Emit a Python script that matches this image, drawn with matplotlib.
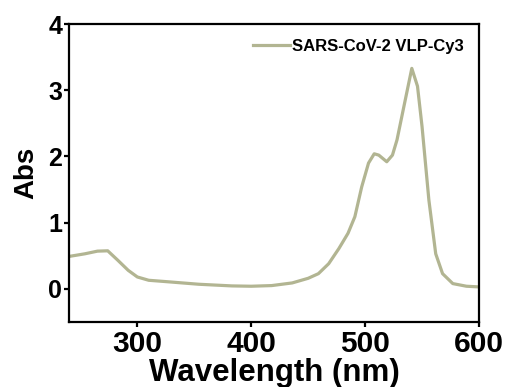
import matplotlib
matplotlib.use("Agg")
import matplotlib.pyplot as plt

wavelength = [240, 254, 265, 274, 283, 292, 300, 310, 325, 354, 383, 400, 418, 436, 450, 459,
              468, 477, 485, 491, 497, 503, 508, 512, 519, 524, 528, 534, 541, 546, 550, 556,
              562, 568, 577, 589, 600]
absorbance = [0.49, 0.53, 0.57, 0.575, 0.43, 0.28, 0.18, 0.13, 0.11, 0.07, 0.045, 0.04, 0.05,
              0.09, 0.16, 0.23, 0.38, 0.61, 0.84, 1.09, 1.54, 1.90, 2.04, 2.02, 1.92, 2.02,
              2.25, 2.75, 3.33, 3.06, 2.45, 1.34, 0.53, 0.23, 0.08, 0.04, 0.03]
series_label = "SARS-CoV-2 VLP-Cy3"
xticks = [300, 400, 500, 600]
yticks = [0, 1, 2, 3, 4]

plt.rcParams['font.family'] = ['Liberation Sans', 'DejaVu Sans']
plt.rcParams['font.weight'] = 'bold'

fig = plt.figure(figsize=(5.07, 3.87), dpi=100)
ax = fig.add_axes([69/507, 1 - 322/387, (479-69)/507, (322-24)/387])
ax.plot(wavelength, absorbance, color='#b2b592', lw=2.3, label=series_label,
        solid_joinstyle='round')
ax.set_xlim(240, 600)
ax.set_ylim(-0.5, 4)
ax.set_xticks(xticks)
ax.set_yticks(yticks)
for s in ax.spines.values():
    s.set_linewidth(1.6)
ax.tick_params(width=1.6, length=3.5)
ax.tick_params(axis='x', labelsize=21.5, pad=2)
ax.tick_params(axis='y', labelsize=18, pad=1.5)
for lab in ax.get_xticklabels() + ax.get_yticklabels():
    lab.set_fontweight('bold')
ax.set_xlabel("Wavelength (nm)", fontsize=22.5, fontweight='bold', labelpad=0)
ax.set_ylabel("Abs", fontsize=20, fontweight='bold', labelpad=6)
leg = ax.legend(loc='upper right', frameon=False, prop={'size': 12, 'weight': 'bold'},
                handlelength=2.2, handletextpad=0.15, borderaxespad=0.5)
fig.savefig("out.png", dpi=100)
